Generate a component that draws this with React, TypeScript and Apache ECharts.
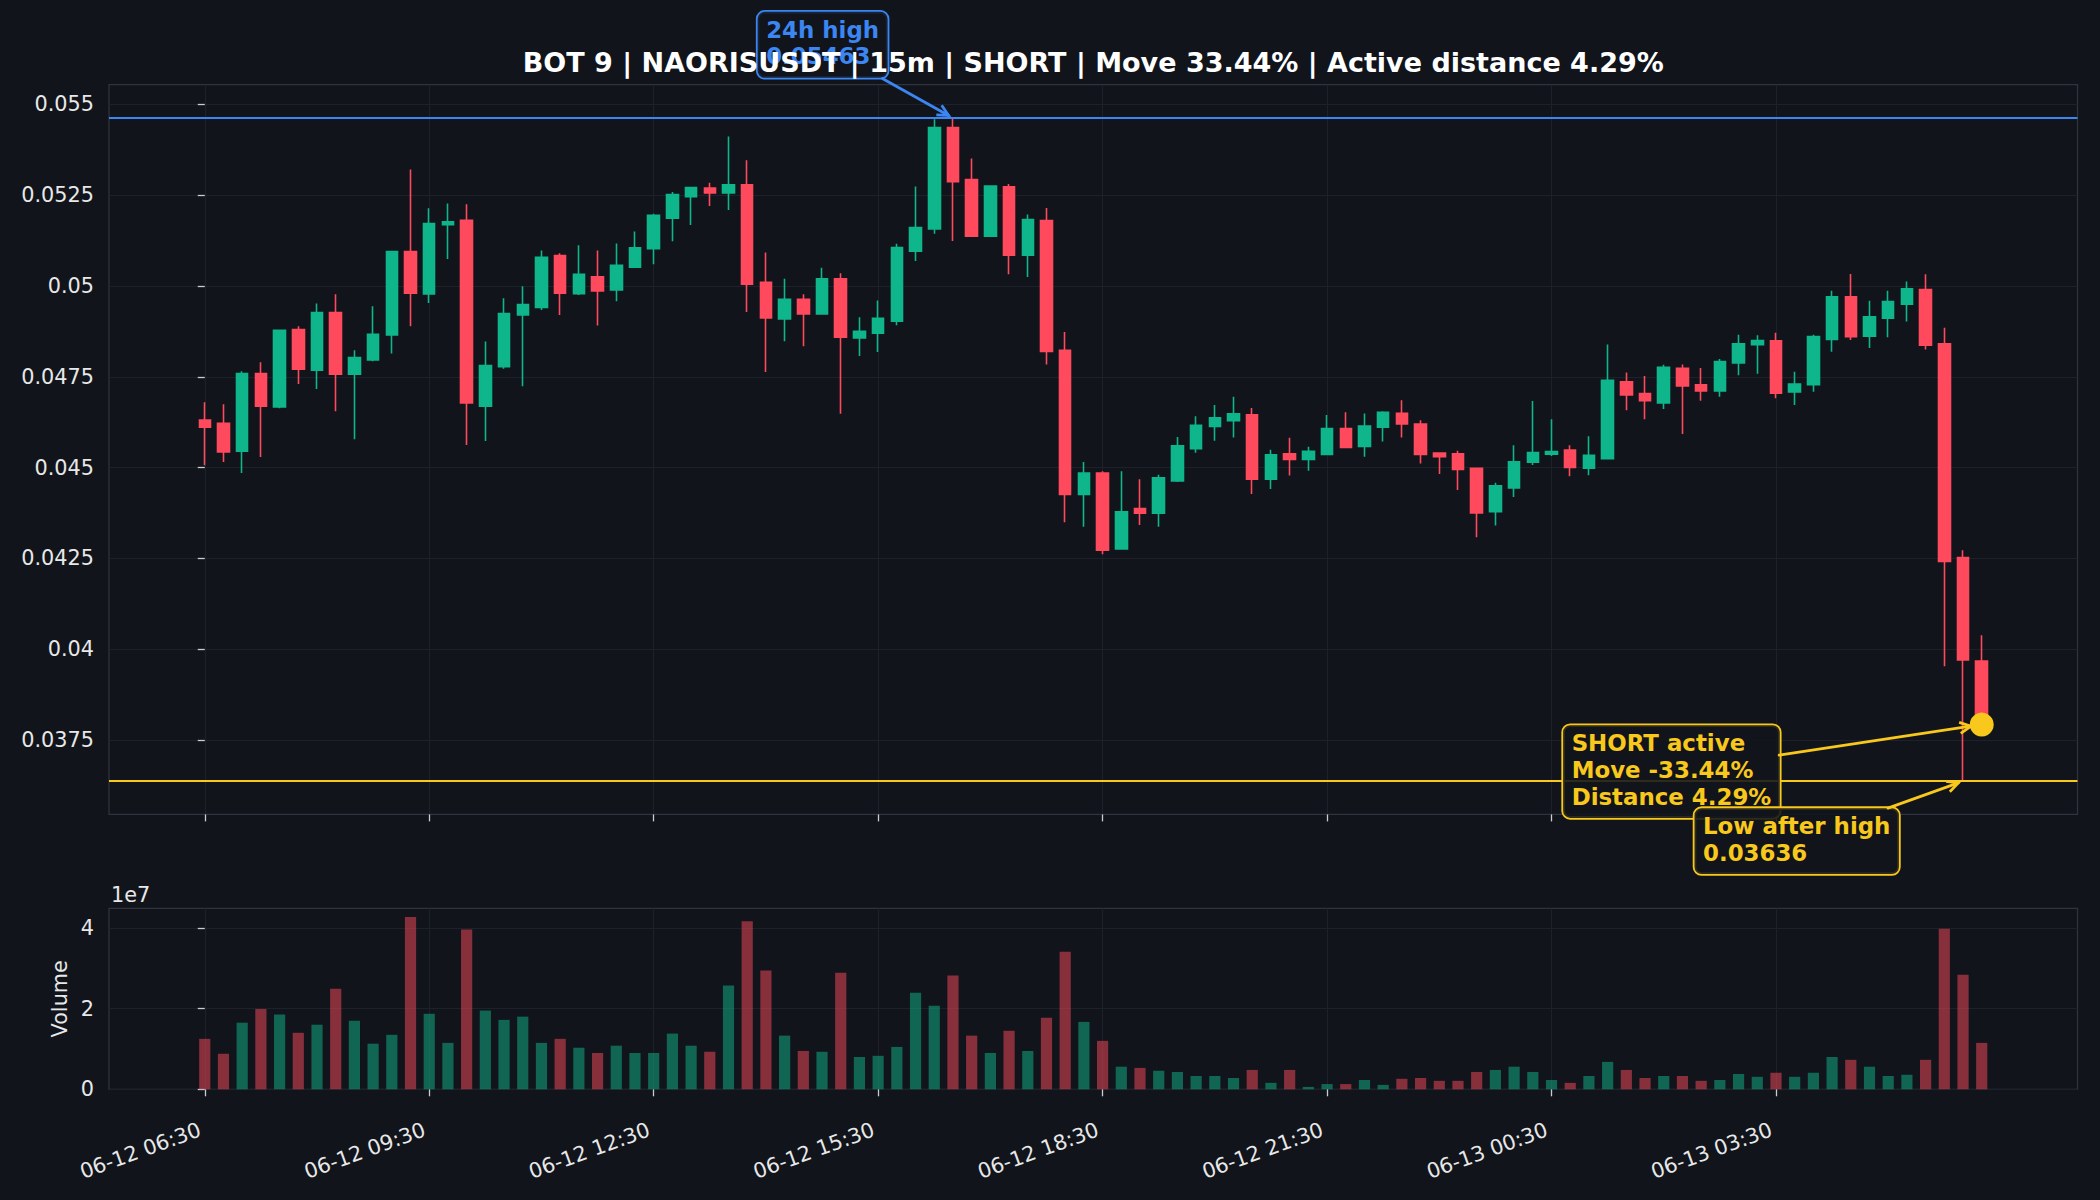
import React, { useEffect, useRef } from "react";
import * as echarts from "echarts";

const TITLE = "BOT 9 | NAORISUSDT | 15m | SHORT | Move 33.44% | Active distance 4.29%";

// 15m candles, index 0 = 06-12 06:30
const OPEN = [
  0.04631, 0.04622, 0.04545, 0.04759, 0.04667, 0.0488, 0.04768, 0.04927, 0.04757, 0.04796,
  0.04865, 0.05095, 0.04978, 0.05169, 0.05181, 0.04669, 0.04778, 0.0492, 0.04941, 0.05084,
  0.04979, 0.05025, 0.04989, 0.05052, 0.05103, 0.05187, 0.05246, 0.0527, 0.05256, 0.05279,
  0.0501, 0.04909, 0.04963, 0.04923, 0.0502, 0.04857, 0.0487, 0.04903, 0.05096, 0.05157,
  0.05436, 0.05293, 0.05137, 0.05273, 0.05085, 0.0518, 0.04823, 0.04426, 0.04485, 0.04276,
  0.04387, 0.04374, 0.04463, 0.04552, 0.04613, 0.04629, 0.04645, 0.04468, 0.04538, 0.04522,
  0.04536, 0.04607, 0.04558, 0.04611, 0.04649, 0.0462, 0.0454, 0.04538, 0.04498, 0.04378,
  0.04444, 0.04515, 0.04537, 0.04548, 0.04498, 0.04524, 0.04736, 0.04704, 0.04678, 0.04773,
  0.04728, 0.04711, 0.04788, 0.04838, 0.04849, 0.04708, 0.04728, 0.04853, 0.0497, 0.04862,
  0.04911, 0.0495, 0.0499, 0.04841, 0.04252, 0.03967,
];
const CLOSE = [
  0.04611, 0.04543, 0.04759, 0.04669, 0.04878, 0.04771, 0.04927, 0.04757, 0.04803, 0.04867,
  0.05095, 0.0498, 0.05172, 0.05177, 0.04678, 0.04781, 0.04924, 0.04949, 0.05079, 0.0498,
  0.05032, 0.04986, 0.05057, 0.05105, 0.05195, 0.05252, 0.05271, 0.05256, 0.05279, 0.05005,
  0.04912, 0.04963, 0.04923, 0.0502, 0.04859, 0.04875, 0.04911, 0.05106, 0.05161, 0.05436,
  0.05287, 0.05137, 0.05275, 0.05085, 0.05183, 0.0482, 0.04426, 0.04485, 0.04272, 0.04378,
  0.04374, 0.04472, 0.0456, 0.04616, 0.04637, 0.04648, 0.04468, 0.04535, 0.04522, 0.04545,
  0.04607, 0.04555, 0.04614, 0.04652, 0.0462, 0.04536, 0.0453, 0.04495, 0.04375, 0.0445,
  0.04516, 0.04541, 0.04544, 0.045, 0.04534, 0.0474, 0.047, 0.04684, 0.04776, 0.04725,
  0.04711, 0.04792, 0.04841, 0.0485, 0.04705, 0.0473, 0.04861, 0.0497, 0.0486, 0.04915,
  0.04957, 0.04992, 0.04837, 0.04241, 0.0397, 0.03792,
];
const HIGH = [
  0.0468, 0.04674, 0.04765, 0.0479, 0.0488, 0.04889, 0.04952, 0.04977, 0.04823, 0.04944,
  0.05097, 0.05321, 0.05214, 0.05227, 0.05225, 0.04847, 0.04966, 0.04999, 0.05098, 0.0509,
  0.05112, 0.05098, 0.05117, 0.0515, 0.05199, 0.05259, 0.05273, 0.05284, 0.05412, 0.05346,
  0.05092, 0.0502, 0.04977, 0.0505, 0.05035, 0.04914, 0.0496, 0.05116, 0.05274, 0.05459,
  0.05463, 0.05351, 0.05277, 0.05281, 0.05197, 0.05215, 0.04873, 0.04515, 0.0449, 0.0449,
  0.04468, 0.0448, 0.04584, 0.04641, 0.04672, 0.04695, 0.04664, 0.04549, 0.04582, 0.04557,
  0.04645, 0.04652, 0.04649, 0.04655, 0.04685, 0.0463, 0.04541, 0.04546, 0.045, 0.04458,
  0.04561, 0.04683, 0.04633, 0.04561, 0.04586, 0.04839, 0.04762, 0.04752, 0.04783, 0.04784,
  0.04774, 0.04799, 0.04866, 0.04864, 0.04871, 0.04764, 0.04866, 0.04987, 0.05033, 0.04959,
  0.04987, 0.05012, 0.05032, 0.04885, 0.04272, 0.04038,
];
const LOW = [
  0.04506, 0.04515, 0.04485, 0.04529, 0.04663, 0.0473, 0.04716, 0.04655, 0.04578, 0.04793,
  0.04814, 0.04889, 0.04953, 0.05074, 0.04562, 0.04573, 0.04772, 0.04724, 0.04934, 0.0492,
  0.04975, 0.04891, 0.04958, 0.0505, 0.0506, 0.05123, 0.05168, 0.0522, 0.05209, 0.04928,
  0.04763, 0.04848, 0.04834, 0.04921, 0.04648, 0.04807, 0.04818, 0.04892, 0.05069, 0.05144,
  0.05124, 0.05135, 0.05135, 0.05032, 0.05025, 0.04784, 0.04349, 0.04337, 0.04261, 0.04274,
  0.04342, 0.04337, 0.0446, 0.04541, 0.04574, 0.04583, 0.04427, 0.04441, 0.04478, 0.04491,
  0.04534, 0.04553, 0.0453, 0.04572, 0.04583, 0.04511, 0.04482, 0.04438, 0.04308, 0.0434,
  0.04419, 0.04507, 0.04532, 0.04476, 0.04479, 0.04522, 0.04658, 0.04633, 0.04661, 0.04592,
  0.04684, 0.04695, 0.04754, 0.04758, 0.04691, 0.04672, 0.04709, 0.04819, 0.04851, 0.04829,
  0.04859, 0.04902, 0.04825, 0.03953, 0.03636, 0.03785,
];
const VOLUME = [
  1.25e7, 0.88e7, 1.65e7, 1.99e7, 1.85e7, 1.4e7, 1.6e7, 2.49e7, 1.7e7, 1.13e7,
  1.35e7, 4.27e7, 1.87e7, 1.15e7, 3.96e7, 1.95e7, 1.72e7, 1.8e7, 1.15e7, 1.25e7,
  1.03e7, 0.9e7, 1.08e7, 0.9e7, 0.9e7, 1.38e7, 1.08e7, 0.93e7, 2.57e7, 4.16e7,
  2.94e7, 1.33e7, 0.95e7, 0.93e7, 2.89e7, 0.8e7, 0.83e7, 1.05e7, 2.39e7, 2.07e7,
  2.82e7, 1.33e7, 0.9e7, 1.45e7, 0.95e7, 1.77e7, 3.41e7, 1.67e7, 1.2e7, 0.56e7,
  0.53e7, 0.46e7, 0.43e7, 0.33e7, 0.33e7, 0.28e7, 0.48e7, 0.16e7, 0.48e7, 0.06e7,
  0.13e7, 0.13e7, 0.23e7, 0.11e7, 0.26e7, 0.28e7, 0.21e7, 0.21e7, 0.43e7, 0.48e7,
  0.56e7, 0.43e7, 0.23e7, 0.16e7, 0.33e7, 0.68e7, 0.48e7, 0.28e7, 0.33e7, 0.33e7,
  0.21e7, 0.23e7, 0.38e7, 0.31e7, 0.41e7, 0.31e7, 0.41e7, 0.8e7, 0.73e7, 0.56e7,
  0.33e7, 0.36e7, 0.73e7, 3.98e7, 2.84e7, 1.15e7,
];

const X_TICK_INDEX = [0, 12, 24, 36, 48, 60, 72, 84];
const X_TICK_LABELS = [
  "06-12 06:30", "06-12 09:30", "06-12 12:30", "06-12 15:30",
  "06-12 18:30", "06-12 21:30", "06-13 00:30", "06-13 03:30",
];
const PRICE_TICKS = [0.0375, 0.04, 0.0425, 0.045, 0.0475, 0.05, 0.0525, 0.055];
const VOLUME_TICKS = [0, 2e7, 4e7];

const HIGH_24H = 0.05463;
const HIGH_INDEX = 40;
const LOW_AFTER_HIGH = 0.03636;
const LOW_INDEX = 94;
const CURRENT_INDEX = 95;
const CURRENT_PRICE = 0.03792;

const BG = "#11141b";
const GREEN = "#0fb58b";
const RED = "#ff4a5e";
const BLUE = "#3b86f0";
const YELLOW = "#f8c81c";
const SPINE = "#2e333d";
const GRIDLINE = "#1d212a";
const TICK = "#c9ccd2";
const LABEL = "#e8e8e8";
const FONT = '"DejaVu Sans", "Noto Sans", sans-serif';

const GRID_LEFT = 109;
const GRID_W = 1968.5;
const MAIN_TOP = 84.7;
const MAIN_H = 729.7;
const VOL_TOP = 908.3;
const VOL_H = 181;

export default function App() {
  const ref = useRef<HTMLDivElement | null>(null);

  useEffect(() => {
    document.body.style.margin = "0";
    document.body.style.background = BG;
    const el = ref.current!;
    const chart = echarts.init(el, null, { renderer: "svg" });

    const lo = Math.min(...LOW);
    const hi = Math.max(...HIGH);
    const pad = (hi - lo) * 0.05;
    const vMax = Math.max(...VOLUME) * 1.05;
    const n = OPEN.length;
    const xPad = 5.12;

    const tickLabelStyle = { color: LABEL, fontSize: 20.8, fontFamily: FONT };

    const option: any = {
      backgroundColor: BG,
      animation: false,
      grid: [
        {
          left: GRID_LEFT, top: MAIN_TOP, width: GRID_W, height: MAIN_H,
          show: true, borderColor: SPINE, borderWidth: 1.3, backgroundColor: "transparent",
          containLabel: false, outerBoundsMode: "none",
        },
        {
          left: GRID_LEFT, top: VOL_TOP, width: GRID_W, height: VOL_H,
          show: true, borderColor: SPINE, borderWidth: 1.3, backgroundColor: "transparent",
          containLabel: false, outerBoundsMode: "none",
        },
      ],
      xAxis: [
        {
          type: "value", gridIndex: 0, min: -xPad, max: n - 1 + xPad,
          axisLine: { show: false },
          axisTick: { show: true, length: 7, lineStyle: { color: TICK, width: 1.3 }, customValues: X_TICK_INDEX },
          axisLabel: { show: false, customValues: X_TICK_INDEX },
          splitLine: { show: true, lineStyle: { color: GRIDLINE, width: 1 } },
        },
        {
          type: "value", gridIndex: 1, min: -xPad, max: n - 1 + xPad,
          axisLine: { show: false },
          axisTick: { show: true, length: 7, lineStyle: { color: TICK, width: 1.3 }, customValues: X_TICK_INDEX },
          axisLabel: {
            show: true, customValues: X_TICK_INDEX, rotate: 20, margin: 38, padding: [0, 5, 0, 0],
            formatter: (v: number) => {
              const k = X_TICK_INDEX.indexOf(Math.round(v));
              return k >= 0 ? X_TICK_LABELS[k] : "";
            },
            ...tickLabelStyle,
          },
          splitLine: { show: true, lineStyle: { color: GRIDLINE, width: 1 } },
        },
      ],
      yAxis: [
        {
          type: "value", gridIndex: 0, min: lo - pad, max: hi + pad,
          axisLine: { show: false },
          axisTick: { show: true, length: 7, lineStyle: { color: TICK, width: 1.3 }, customValues: PRICE_TICKS },
          axisLabel: {
            show: true, customValues: PRICE_TICKS, margin: 15,
            formatter: (v: number) => String(parseFloat(v.toFixed(5))),
            ...tickLabelStyle,
          },
          splitLine: { show: true, lineStyle: { color: GRIDLINE, width: 1 } },
        },
        {
          type: "value", gridIndex: 1, min: 0, max: vMax,
          axisLine: { show: false },
          axisTick: { show: true, length: 7, lineStyle: { color: TICK, width: 1.3 }, customValues: VOLUME_TICKS },
          axisLabel: {
            show: true, customValues: VOLUME_TICKS, margin: 15,
            formatter: (v: number) => String(Math.round(v / 1e7)),
            ...tickLabelStyle,
          },
          splitLine: { show: true, lineStyle: { color: GRIDLINE, width: 1 } },
        },
      ],
      series: [
        {
          type: "candlestick",
          xAxisIndex: 0, yAxisIndex: 0,
          silent: true,
          barWidth: 12,
          data: OPEN.map((o, i) => [i, o, CLOSE[i], LOW[i], HIGH[i]]),
          itemStyle: { color: GREEN, color0: RED, borderColor: GREEN, borderColor0: RED, borderWidth: 1.6 },
          markLine: {
            silent: true,
            precision: 6,
            symbol: ["none", "none"],
            label: { show: false },
            data: [
              { yAxis: HIGH_24H, lineStyle: { color: BLUE, width: 2.2, type: "solid" } },
              { yAxis: LOW_AFTER_HIGH, lineStyle: { color: YELLOW, width: 2.2, type: "solid" } },
            ],
          },
        },
        {
          type: "scatter",
          xAxisIndex: 0, yAxisIndex: 0,
          silent: true,
          z: 5,
          symbolSize: 24,
          data: [[CURRENT_INDEX, CURRENT_PRICE]],
          itemStyle: { color: YELLOW, opacity: 1 },
        },
        {
          type: "bar",
          xAxisIndex: 1, yAxisIndex: 1,
          silent: true,
          barWidth: 11.2,
          data: VOLUME.map((v, i) => ({
            value: [i, v],
            itemStyle: { color: CLOSE[i] >= OPEN[i] ? GREEN : RED, opacity: 0.5 },
          })),
        },
      ],
    };

    chart.setOption(option);

    const px = (x: number, y: number) =>
      chart.convertToPixel({ gridIndex: 0 }, [x, y]) as number[];

    const arrow = (start: number[], target: number[], shrink: number, color: string) => {
      const dx = target[0] - start[0];
      const dy = target[1] - start[1];
      const len = Math.hypot(dx, dy);
      const ux = dx / len;
      const uy = dy / len;
      const tip = [target[0] - ux * shrink, target[1] - uy * shrink];
      const hl = 11;
      const hw = 5.5;
      const base = [tip[0] - ux * hl, tip[1] - uy * hl];
      const p1 = [base[0] - uy * hw, base[1] + ux * hw];
      const p2 = [base[0] + uy * hw, base[1] - ux * hw];
      return [
        {
          type: "line", z: 70, silent: true,
          shape: { x1: start[0], y1: start[1], x2: tip[0], y2: tip[1] },
          style: { stroke: color, lineWidth: 2.8, lineCap: "round" },
        },
        {
          type: "polyline", z: 70, silent: true,
          shape: { points: [p1, tip, p2] },
          style: { stroke: color, lineWidth: 2.8, fill: "transparent", lineJoin: "miter" },
        },
      ];
    };

    const box = (x: number, y: number, text: string, color: string) => ({
      type: "text", z: 60, silent: true, x, y,
      style: {
        text, fill: color, fontSize: 22.9, fontWeight: "bold", fontFamily: FONT,
        lineHeight: 26.7, align: "left", verticalAlign: "top",
        backgroundColor: "rgba(17,20,27,0.88)", borderColor: color, borderWidth: 1.8,
        borderRadius: 7, padding: [4.5, 8.5, 8, 8.5],
      },
    });

    const T = px(HIGH_INDEX, HIGH_24H);
    const D = px(CURRENT_INDEX, CURRENT_PRICE);
    const L = px(LOW_INDEX, LOW_AFTER_HIGH);

    const graphic: any[] = [
      {
        type: "text", z: 100, silent: true,
        x: GRID_LEFT + GRID_W / 2, y: 62,
        style: {
          text: TITLE, fill: "#ffffff", fontSize: 27, fontWeight: "bold", fontFamily: FONT,
          align: "center", verticalAlign: "middle",
        },
      },
      {
        type: "text", z: 100, silent: true, x: 111, y: 895,
        style: { text: "1e7", fill: LABEL, fontSize: 20.8, fontFamily: FONT, align: "left", verticalAlign: "middle" },
      },
      {
        type: "text", z: 100, silent: true, x: 60, y: VOL_TOP + VOL_H / 2, rotation: Math.PI / 2,
        style: { text: "Volume", fill: LABEL, fontSize: 20.8, fontFamily: FONT, align: "center", verticalAlign: "middle" },
      },
      box(T[0] - 195.3, T[1] - 106, `24h high\n${HIGH_24H.toFixed(5)}`, BLUE),
      ...arrow([T[0] - 70.6, T[1] - 39.3], T, 5, BLUE),
      box(D[0] - 418.6, D[1] + 0.7, "SHORT active\nMove -33.44%\nDistance 4.29%", YELLOW),
      ...arrow([D[0] - 202.6, D[1] + 30.5], D, 11, YELLOW),
      box(L[0] - 268.5, L[1] + 26.9, `Low after high\n${LOW_AFTER_HIGH.toFixed(5)}`, YELLOW),
      ...arrow([L[0] - 75.1, L[1] + 26.9], L, 5, YELLOW),
    ];

    chart.setOption({ graphic });

    return () => {
      chart.dispose();
    };
  }, []);

  return <div ref={ref} style={{ width: 2100, height: 1200, background: BG }} />;
}
